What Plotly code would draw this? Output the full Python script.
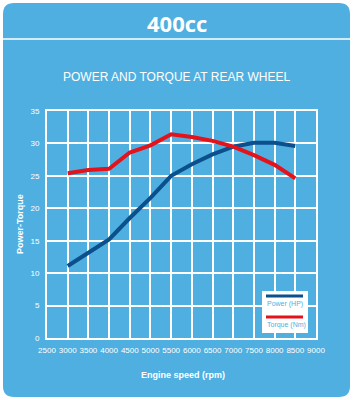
import plotly.graph_objects as go

rpm = [3000, 3500, 4000, 4500, 5000, 5500, 6000, 6500, 7000, 7500, 8000, 8500]
power_hp = [11.1, 13.1, 15.2, 18.5, 21.6, 25.0, 26.8, 28.3, 29.5, 30.1, 30.1, 29.6]
torque_nm = [25.4, 25.9, 26.1, 28.6, 29.7, 31.4, 31.0, 30.4, 29.5, 28.2, 26.7, 24.6]
x_ticks = list(range(2500, 9001, 500))
y_ticks = list(range(0, 36, 5))

BG = "#4FAFE0"
DARK = "#0B4F8C"
RED = "#E4121B"

W, H = 353, 400
ML, MR, MT, MB = 47, 37, 111, 62
PW, PH = W - ML - MR, H - MT - MB

def px(x):
    return (x - ML) / PW

def py(y):
    return (H - MB - y) / PH

fig = go.Figure()
fig.add_trace(go.Scatter(x=rpm, y=power_hp, mode="lines", name="Power (HP)",
                         line=dict(color=DARK, width=4)))
fig.add_trace(go.Scatter(x=rpm, y=torque_nm, mode="lines", name="Torque (Nm)",
                         line=dict(color=RED, width=4)))

# rounded background panel
x0, x1, y0, y1, r = 3, 350, 3, 397, 11
path = (f"M {px(x0+r)},{py(y0)} L {px(x1-r)},{py(y0)} "
        f"Q {px(x1)},{py(y0)} {px(x1)},{py(y0+r)} "
        f"L {px(x1)},{py(y1-r)} Q {px(x1)},{py(y1)} {px(x1-r)},{py(y1)} "
        f"L {px(x0+r)},{py(y1)} Q {px(x0)},{py(y1)} {px(x0)},{py(y1-r)} "
        f"L {px(x0)},{py(y0+r)} Q {px(x0)},{py(y0)} {px(x0+r)},{py(y0)} Z")
shapes = [
    dict(type="path", path=path, xref="paper", yref="paper", fillcolor=BG,
         line=dict(width=0), layer="below"),
    dict(type="line", xref="paper", yref="paper", x0=px(3), x1=px(350),
         y0=py(39), y1=py(39), line=dict(color="white", width=1.5)),
    # legend box
    dict(type="rect", xref="paper", yref="paper", x0=px(262), x1=px(308),
         y0=py(333), y1=py(291), fillcolor="white", line=dict(width=0)),
    dict(type="line", xref="paper", yref="paper", x0=px(266), x1=px(303),
         y0=py(296), y1=py(296), line=dict(color=DARK, width=3)),
    dict(type="line", xref="paper", yref="paper", x0=px(266), x1=px(303),
         y0=py(317), y1=py(317), line=dict(color=RED, width=3)),
]

annotations = [
    dict(text="<b>400cc</b>", x=px(176.5), y=py(23), xref="paper", yref="paper",
         showarrow=False, font=dict(family="Open Sans", size=22, color="white"),
         xanchor="center", yanchor="middle"),
    dict(text="POWER AND TORQUE AT REAR WHEEL", x=px(176.5), y=py(77), xref="paper",
         yref="paper", showarrow=False,
         font=dict(family="Liberation Sans, Arial", size=12, color="white"),
         xanchor="center", yanchor="middle"),
    dict(text="Power (HP)", x=px(265), y=py(304), xref="paper", yref="paper",
         showarrow=False, font=dict(family="Liberation Sans, Arial", size=7, color=BG),
         xanchor="left", yanchor="middle"),
    dict(text="Torque (Nm)", x=px(265), y=py(324.5), xref="paper", yref="paper",
         showarrow=False, font=dict(family="Liberation Sans, Arial", size=7, color=BG),
         xanchor="left", yanchor="middle"),
    dict(text="<b>Engine speed (rpm)</b>", x=px(182.5), y=py(375), xref="paper",
         yref="paper", showarrow=False,
         font=dict(family="Liberation Sans, Arial", size=9, color="white"),
         xanchor="center", yanchor="middle"),
    dict(text="<b>Power-Torque</b>", x=px(20), y=py(224), xref="paper",
         yref="paper", showarrow=False, textangle=-90,
         font=dict(family="Liberation Sans, Arial", size=9, color="white"),
         xanchor="center", yanchor="middle"),
]

tickfont = dict(family="Liberation Sans Narrow, Arial Narrow, Liberation Sans", size=8,
                color="white")
fig.update_layout(
    width=W, height=H,
    margin=dict(l=ML, r=MR, t=MT, b=MB),
    paper_bgcolor="white",
    plot_bgcolor="rgba(0,0,0,0)",
    showlegend=False,
    shapes=shapes,
    annotations=annotations,
    xaxis=dict(range=[2500, 9000], tickvals=x_ticks, ticktext=[str(v) for v in x_ticks],
               showgrid=True, gridcolor="white", gridwidth=1.5, zeroline=False,
               showline=True, linecolor="white", linewidth=2, mirror=True,
               ticks="", tickfont=tickfont, ticklabelstandoff=3),
    yaxis=dict(range=[0, 35], tickvals=y_ticks, showgrid=True, gridcolor="white",
               gridwidth=1.5, zeroline=False, showline=True, linecolor="white",
               linewidth=2, mirror=True, ticks="", tickfont=tickfont,
               ticklabelstandoff=4),
)

fig.write_html("out.html")
